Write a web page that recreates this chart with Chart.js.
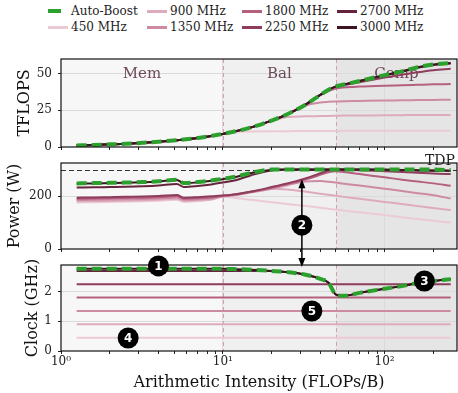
<!DOCTYPE html>
<html>
<head>
<meta charset="utf-8">
<script src="https://cdn.jsdelivr.net/npm/chart.js@4.4.0/dist/chart.umd.min.js"></script>
<style>
  body { margin: 0; background: #fff; }
  #wrap { position: relative; width: 458px; height: 393px; font-family: "DejaVu Serif", serif; overflow: hidden; }
  #wrap canvas { position: absolute; left: 0; }
  .item { position: absolute; height: 16px; display: flex; align-items: center; white-space: nowrap; font-size: 12px; color: #222; }
  .sw { display: inline-block; width: 20px; height: 3px; margin-right: 3px; }
</style>
</head>
<body>
<div id="wrap">
  <div id="legend"></div>
  <canvas id="c1" width="458" height="102" style="top:50px"></canvas>
  <canvas id="c2" width="458" height="102" style="top:152px"></canvas>
  <canvas id="c3" width="458" height="139" style="top:254px"></canvas>
</div>
<script>
// arithmetic intensity samples (FLOPs/B)
const AI = [1.25, 1.6, 2, 2.5, 3.2, 4, 5.2, 5.75, 7, 8.5, 10, 12, 15, 20, 25, 32, 40, 45, 50, 56, 70, 100, 128, 160, 200, 256];

// TFLOPS
const TF_AUTO = [1.1, 1.4, 1.8, 2.2, 2.9, 3.6, 4.6, 5.1, 6.2, 7.6, 8.9, 10.7, 13.4, 18.0, 22.3, 28.5, 35.5, 39.0, 41.3, 42.6, 45.0, 49.0, 51.6, 54.4, 56.3, 57.3];
const TF_3000 = [1.1, 1.4, 1.8, 2.2, 2.9, 3.6, 4.6, 5.1, 6.2, 7.6, 8.9, 10.7, 13.4, 18.0, 22.3, 28.5, 35.5, 39.0, 41.3, 42.6, 45.0, 49.0, 51.6, 54.4, 56.3, 57.3];
const TF_2700 = [1.1, 1.4, 1.8, 2.2, 2.9, 3.6, 4.6, 5.1, 6.2, 7.6, 8.9, 10.7, 13.4, 18.0, 22.3, 28.5, 35.5, 39.0, 41.3, 42.6, 45.0, 48.8, 51.3, 54.0, 55.9, 56.9];
const TF_2250 = [1.1, 1.4, 1.8, 2.2, 2.9, 3.6, 4.6, 5.1, 6.2, 7.6, 8.9, 10.7, 13.4, 18.0, 22.3, 28.5, 35.5, 39.0, 41.0, 42.2, 44.2, 47.3, 49.3, 51.0, 52.4, 53.4];
const TF_1800 = [1.1, 1.4, 1.8, 2.2, 2.9, 3.6, 4.6, 5.1, 6.2, 7.6, 8.9, 10.7, 13.4, 18.0, 22.3, 28.5, 35.3, 38.2, 39.9, 40.6, 41.2, 41.8, 42.1, 42.4, 42.7, 42.9];
const TF_1350 = [1.1, 1.4, 1.8, 2.2, 2.9, 3.6, 4.6, 5.1, 6.2, 7.6, 8.9, 10.7, 13.4, 18.0, 22.2, 28.1, 30.4, 30.8, 31.0, 31.2, 31.4, 31.7, 31.8, 32.0, 32.1, 32.2];
const TF_900  = [1.1, 1.4, 1.8, 2.2, 2.9, 3.6, 4.6, 5.1, 6.2, 7.6, 8.9, 10.7, 13.3, 17.8, 20.4, 20.9, 21.1, 21.2, 21.3, 21.4, 21.5, 21.6, 21.7, 21.8, 21.8, 21.9];
const TF_450  = [1.1, 1.4, 1.8, 2.2, 2.9, 3.6, 4.6, 5.1, 6.2, 7.6, 8.8, 10.2, 10.6, 10.8, 10.8, 10.9, 10.9, 10.9, 10.9, 11.0, 11.0, 11.0, 11.0, 11.0, 11.0, 11.0];

// Power (W)
const PW_AUTO = [248, 249, 250, 251, 253, 256, 262, 249, 253, 259, 265, 273, 288, 300, 300, 300, 300, 300, 300, 300, 300, 300, 300, 300, 300, 298];
const PW_3000 = [247, 248, 249, 250, 252, 255, 261, 248, 252, 258, 264, 272, 287, 299, 300, 300, 300, 300, 300, 300, 300, 300, 299, 298, 297, 296];
const PW_2700 = [232, 233, 234, 235, 237, 240, 246, 234, 238, 244, 251, 260, 279, 297, 300, 300, 300, 300, 300, 300, 300, 299, 298, 297, 296, 295];
const PW_2250 = [194, 195, 196, 197, 198, 200, 204, 194, 196, 199, 202, 207, 217, 234, 248, 266, 286, 297, 300, 300, 298, 294, 291, 288, 285, 283];
const PW_1800 = [190, 191, 192, 193, 194, 196, 200, 190, 192, 195, 201, 206, 216, 232, 246, 262, 280, 290, 294, 291, 283, 271, 262, 255, 248, 239];
const PW_1350 = [185, 186, 187, 188, 189, 191, 195, 186, 188, 191, 199, 204, 214, 228, 241, 255, 257, 254, 251, 247, 240, 228, 219, 211, 203, 191];
const PW_900  = [180, 181, 182, 183, 184, 186, 190, 182, 184, 188, 198, 205, 216, 228, 225, 217, 209, 205, 201, 197, 190, 178, 170, 162, 155, 147];
const PW_450  = [176, 177, 178, 179, 180, 182, 186, 178, 181, 186, 197, 193, 186, 177, 170, 163, 156, 152, 149, 145, 139, 128, 120, 113, 107, 100];
const TDP = 300;

// Clock (GHz)
const CK_AUTO = [2.77, 2.77, 2.77, 2.77, 2.77, 2.77, 2.77, 2.77, 2.77, 2.77, 2.77, 2.76, 2.74, 2.70, 2.66, 2.58, 2.43, 2.30, 1.90, 1.86, 1.96, 2.10, 2.19, 2.29, 2.36, 2.42];
const CK_3000 = [2.77, 2.77, 2.77, 2.77, 2.77, 2.77, 2.77, 2.77, 2.77, 2.77, 2.77, 2.76, 2.74, 2.70, 2.66, 2.58, 2.43, 2.30, 1.90, 1.86, 1.96, 2.10, 2.19, 2.29, 2.36, 2.42];
const CK_2700 = [2.70, 2.70, 2.70, 2.70, 2.70, 2.70, 2.70, 2.70, 2.70, 2.70, 2.70, 2.70, 2.70, 2.70, 2.66, 2.58, 2.43, 2.30, 1.90, 1.86, 1.96, 2.10, 2.19, 2.29, 2.36, 2.42];
const CK_FIXED = [2.25, 1.8, 1.35, 0.9, 0.45];   // 2250 .. 450 MHz

const FREQS = ['3000 MHz', '2700 MHz', '2250 MHz', '1800 MHz', '1350 MHz', '900 MHz', '450 MHz'];
const FREQ_COLORS = ['#3c1424', '#65243d', '#8f3d5d', '#b5607f', '#cd8aa3', '#ddabbd', '#ebcad6'];
const AUTO_COLOR = '#2ca02c';

const X_TICKS = [1, 2, 3, 4, 5, 6, 7, 8, 9, 10, 20, 30, 40, 50, 60, 70, 80, 90, 100, 200];
const X_LABELS = { 1: '10\u2070', 10: '10\u00b9', 100: '10\u00b2' };
const REGIONS = [
  { name: 'Mem', from: 1, to: 10, fill: '#f7f7f7' },
  { name: 'Bal', from: 10, to: 50, fill: '#f0f0f0' },
  { name: 'Comp', from: 50, to: 280, fill: '#e5e5e5' }
];
const MARKERS = [
  { n: '1', panel: 'clock', x: 4.0, y: 2.87 },
  { n: '2', panel: 'power', x: 30.8, y: 90 },
  { n: '3', panel: 'clock', x: 176, y: 2.36 },
  { n: '4', panel: 'clock', x: 2.6, y: 0.44 },
  { n: '5', panel: 'clock', x: 35.5, y: 1.35 }
];
const ARROW = { x: 30.8, power: 264, clock: 2.83 };

const SERIF = '"DejaVu Serif", serif';

// ---- legend (matplotlib fills columns first) ----
const legendOrder = [
  ['Auto-Boost', AUTO_COLOR, true], ['450 MHz', FREQ_COLORS[6]],
  ['900 MHz', FREQ_COLORS[5]], ['1350 MHz', FREQ_COLORS[4]],
  ['1800 MHz', FREQ_COLORS[3]], ['2250 MHz', FREQ_COLORS[2]],
  ['2700 MHz', FREQ_COLORS[1]], ['3000 MHz', FREQ_COLORS[0]]
];
const colX = [48, 147, 242, 337];
const rowY = [3, 19];
const legend = document.getElementById('legend');
legendOrder.forEach(([txt, col, dashed], i) => {
  const d = document.createElement('div');
  d.className = 'item';
  d.style.left = colX[Math.floor(i / 2)] + 'px';
  d.style.top = rowY[i % 2] + 'px';
  const sw = document.createElement('span');
  sw.className = 'sw';
  sw.style.background = dashed
    ? `linear-gradient(to right, ${col} 0 13px, transparent 13px)`
    : col;
  if (dashed) sw.style.height = '4px';
  d.appendChild(sw);
  d.appendChild(document.createTextNode(txt));
  legend.appendChild(d);
});

// ---- datasets ----
function pts(ys) { return AI.map((x, i) => ({ x, y: ys[i] })); }
function autoSet(ys) {
  return { label: 'Auto-Boost', data: pts(ys), borderColor: AUTO_COLOR, borderWidth: 4, borderDash: [10, 5] };
}
function freqSets(list) {
  return list.map((ys, i) => ({ label: FREQS[i], data: pts(ys), borderColor: FREQ_COLORS[i], borderWidth: 2 }));
}

const tfSets = [autoSet(TF_AUTO)].concat(freqSets([TF_3000, TF_2700, TF_2250, TF_1800, TF_1350, TF_900, TF_450]));
const pwSets = [autoSet(PW_AUTO)].concat(freqSets([PW_3000, PW_2700, PW_2250, PW_1800, PW_1350, PW_900, PW_450]));
const ckSets = [autoSet(CK_AUTO)].concat(freqSets([CK_3000, CK_2700])).concat(
  CK_FIXED.map((v, i) => ({
    label: FREQS[i + 2],
    data: [{ x: AI[0], y: v }, { x: AI[AI.length - 1], y: v }],
    borderColor: FREQ_COLORS[i + 2], borderWidth: 2
  }))
);

// ---- shared plugins ----
const regionPlugin = {
  id: 'regions',
  beforeDraw(chart) {
    const { ctx, chartArea: a, scales: { x } } = chart;
    ctx.save();
    REGIONS.forEach(r => {
      const x0 = Math.max(a.left, x.getPixelForValue(r.from));
      const x1 = Math.min(a.right, x.getPixelForValue(r.to));
      ctx.fillStyle = r.fill;
      ctx.fillRect(x0, a.top, x1 - x0, a.bottom - a.top);
    });
    ctx.restore();
  },
  beforeDatasetsDraw(chart) {
    const { ctx, chartArea: a, scales: { x } } = chart;
    ctx.save();
    ctx.strokeStyle = '#d49fb2';
    ctx.lineWidth = 1;
    ctx.setLineDash([4, 3]);
    [10, 50].forEach(v => {
      const px = Math.round(x.getPixelForValue(v)) + 0.5;
      ctx.beginPath(); ctx.moveTo(px, a.top); ctx.lineTo(px, a.bottom); ctx.stroke();
    });
    ctx.restore();
  },
  afterDatasetsDraw(chart) {
    const { ctx, chartArea: a } = chart;
    ctx.save();
    ctx.strokeStyle = '#111';
    ctx.lineWidth = 1.2;
    ctx.strokeRect(a.left, a.top, a.right - a.left, a.bottom - a.top);
    ctx.restore();
  }
};

function disc(ctx, x, y, n) {
  ctx.beginPath();
  ctx.arc(x, y, 10.5, 0, Math.PI * 2);
  ctx.fillStyle = '#000';
  ctx.fill();
  ctx.fillStyle = '#fff';
  ctx.font = 'bold 12px "DejaVu Sans", sans-serif';
  ctx.textAlign = 'center';
  ctx.textBaseline = 'middle';
  ctx.fillText(n, x, y + 0.5);
}
function head(ctx, x, y, dir) {
  ctx.beginPath();
  ctx.moveTo(x, y);
  ctx.lineTo(x - 3.5, y - dir * 9);
  ctx.lineTo(x + 3.5, y - dir * 9);
  ctx.closePath();
  ctx.fill();
}
function markerPlugin(panel) {
  return {
    id: 'markers_' + panel,
    afterDraw(chart) {
      const { ctx, scales: { x, y } } = chart;
      ctx.save();
      ctx.fillStyle = '#000';
      ctx.strokeStyle = '#000';
      ctx.lineWidth = 1.5;
      const ax = x.getPixelForValue(ARROW.x);
      if (panel === 'power') {
        const tip = y.getPixelForValue(ARROW.power);
        ctx.beginPath(); ctx.moveTo(ax, tip + 6); ctx.lineTo(ax, chart.height); ctx.stroke();
        head(ctx, ax, tip, -1);
      }
      if (panel === 'clock') {
        const tip = y.getPixelForValue(ARROW.clock);
        ctx.beginPath(); ctx.moveTo(ax, 0); ctx.lineTo(ax, tip - 6); ctx.stroke();
        head(ctx, ax, tip, 1);
      }
      MARKERS.filter(m => m.panel === panel).forEach(m => {
        disc(ctx, x.getPixelForValue(m.x), y.getPixelForValue(m.y), m.n);
      });
      ctx.restore();
    }
  };
}

// region names sit behind the curves
const labelPlugin = {
  id: 'regionLabels',
  beforeDatasetsDraw(chart) {
    const { ctx, scales: { x, y } } = chart;
    ctx.save();
    ctx.fillStyle = '#6d4a5b';
    ctx.font = '15px ' + SERIF;
    ctx.textAlign = 'center';
    ctx.textBaseline = 'middle';
    REGIONS.forEach(r => {
      const cx = Math.sqrt(r.from * r.to);
      ctx.fillText(r.name, x.getPixelForValue(cx), y.getPixelForValue(50));
    });
    ctx.restore();
  }
};

const tdpPlugin = {
  id: 'tdp',
  beforeDatasetsDraw(chart) {
    const { ctx, chartArea: a, scales: { y } } = chart;
    const py = Math.round(y.getPixelForValue(TDP)) + 0.5;
    ctx.save();
    ctx.strokeStyle = '#333';
    ctx.lineWidth = 1;
    ctx.setLineDash([5, 3]);
    ctx.beginPath(); ctx.moveTo(a.left, py); ctx.lineTo(a.right, py); ctx.stroke();
    ctx.restore();
  },
  afterDraw(chart) {
    const { ctx, chartArea: a, scales: { y } } = chart;
    ctx.save();
    ctx.fillStyle = '#222';
    ctx.font = '14px ' + SERIF;
    ctx.textAlign = 'right';
    ctx.textBaseline = 'alphabetic';
    ctx.fillText('TDP', a.right - 2, y.getPixelForValue(TDP) - 5);
    ctx.restore();
  }
};

// ---- panel factory ----
function panel(id, cfg) {
  return new Chart(document.getElementById(id), {
    type: 'line',
    data: { datasets: cfg.datasets },
    options: {
      responsive: false,
      animation: false,
      layout: { padding: { top: cfg.padTop, right: 1, bottom: 0, left: 0 } },
      plugins: { legend: { display: false }, tooltip: { enabled: false } },
      elements: {
        point: { radius: 0 },
        line: { cubicInterpolationMode: 'monotone', borderCapStyle: 'butt' }
      },
      scales: {
        x: {
          type: 'logarithmic',
          min: 1,
          max: 280,
          afterBuildTicks: s => { s.ticks = X_TICKS.map(v => ({ value: v, major: !!X_LABELS[v] })); },
          afterFit: s => { s.height = cfg.xHeight; s.paddingLeft = 0; s.paddingRight = 0; },
          border: { display: false },
          grid: {
            color: c => (c.tick && X_LABELS[c.tick.value] && c.tick.value !== 1) ? '#dadada' : 'rgba(0,0,0,0)',
            tickColor: '#222',
            tickLength: 3
          },
          ticks: {
            display: cfg.showX,
            autoSkip: false,
            maxRotation: 0,
            padding: 1,
            color: '#222',
            font: { family: SERIF, size: 12 },
            callback: v => X_LABELS[v] || ''
          },
          title: {
            display: cfg.showX,
            text: 'Arithmetic Intensity (FLOPs/B)',
            color: '#111',
            font: { family: SERIF, size: 16 },
            padding: { top: 0, bottom: 1 }
          }
        },
        y: {
          min: 0,
          max: cfg.max,
          afterFit: s => { s.width = 61; s.paddingTop = 0; s.paddingBottom = 0; },
          border: { display: false },
          grid: {
            color: c => (c.tick && c.tick.value !== 0) ? '#dadada' : 'rgba(0,0,0,0)',
            tickColor: '#222',
            tickLength: 3
          },
          ticks: {
            stepSize: cfg.step,
            includeBounds: false,
            padding: 6,
            color: '#222',
            font: { family: SERIF, size: 12 }
          },
          title: {
            display: true,
            text: cfg.title,
            color: '#111',
            font: { family: SERIF, size: 16 },
            padding: { top: cfg.titlePad, bottom: 0 }
          }
        }
      }
    },
    plugins: [regionPlugin].concat(cfg.extra)
  });
}

panel('c1', { datasets: tfSets, padTop: 9, xHeight: 5, showX: false, max: 60, step: 25, title: 'TFLOPS', titlePad: 15, extra: [labelPlugin] });
panel('c2', { datasets: pwSets, padTop: 11, xHeight: 5, showX: false, max: 325, step: 200, title: 'Power (W)', titlePad: 5, extra: [tdpPlugin, markerPlugin('power')] });
panel('c3', { datasets: ckSets, padTop: 11, xHeight: 42, showX: true, max: 2.9, step: 1, title: 'Clock (GHz)', titlePad: 23, extra: [markerPlugin('clock')] });
</script>
</body>
</html>
